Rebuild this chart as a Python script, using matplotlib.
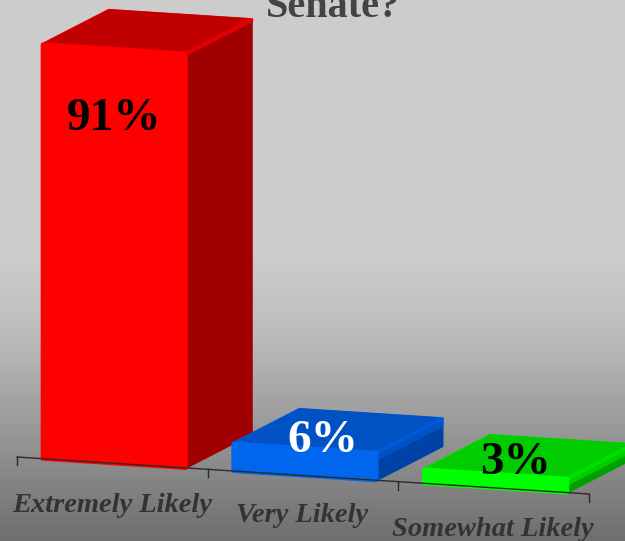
import numpy as np
import matplotlib
matplotlib.use('Agg')
import matplotlib.pyplot as plt
from matplotlib.patches import Polygon
from matplotlib.transforms import Affine2D

categories = ['Extremely Likely', 'Very Likely', 'Somewhat Likely']
values = [91, 6, 3]
labels = ['91%', '6%', '3%']
label_colors = ['black', 'white', 'black']

front_colors = ['#ff0000', '#0066ee', '#00ff00']
top_colors = ['#c00000', '#0052c4', '#00cc00']
edge_colors = ['#e40000', '#005ad8', '#00e000']
side_colors = ['#a00000', '#0042a6', '#00a000']
side_rim = [2, 7, 6]          # px, lighter strip on top of the side face

W, H = 625, 541
left, base_y = 17, 457        # where the axis starts, px
cat_w, cat_drop = 190.67, 12.33
val_h = 4.55
bar_start, bar_w = 0.135, 0.75
depth_x, depth_y = 66, -34    # px, oblique depth of the bars

# category/value space -> picture px
proj = Affine2D.from_values(cat_w, cat_drop, 0, -val_h, left, base_y)

fig = plt.figure(figsize=(W / 100, H / 100), dpi=100)
ax = fig.add_axes([0, 0, 1, 1])

# background
grad = np.interp(np.arange(H), [0, 260, 330, 400, 541], [0.80, 0.795, 0.74, 0.64, 0.43])
ax.imshow(grad[:, None], cmap='gray', vmin=0, vmax=1, aspect='auto', extent=(0, W, H, 0), zorder=0)
ax.set_xlim(0, W)
ax.set_ylim(H, 0)
ax.axis('off')


def pts(i, val):
    # front corners of bar i at height val, in px
    x0 = i + bar_start
    return proj.transform([[x0, val], [x0 + bar_w, val]])


def poly(p, color, z, lw=1.5):
    ax.add_patch(Polygon(p, closed=True, facecolor=color, edgecolor=color, lw=lw, joinstyle='round', zorder=z))


d = np.array([depth_x, depth_y])
for i, v in enumerate(values):
    z = 2 + i
    bl, br = pts(i, 0)
    tl, tr = pts(i, v)
    rim = np.array([0, side_rim[i]])
    poly([br, br + d, tr + d, tr], side_colors[i], z)
    poly([tr, tr + d, tr + d + rim, tr + rim], top_colors[i], z)
    poly([tl, tr, tr + d, tl + d], edge_colors[i], z, lw=2.5)
    # darker inner part of the top, the rim stays lighter
    u = tr - tl
    poly([tl + 0.01 * u + 0.1 * d, tl + 0.95 * u + 0.1 * d, tl + 0.95 * u + d, tl + 0.01 * u + d], top_colors[i], z, lw=2)
    poly([bl, br, tr, tl], front_colors[i], z, lw=3)

# axis line and ticks
ax_x = np.arange(len(categories) + 1)
ax_pts = proj.transform(np.column_stack([ax_x, np.zeros(len(ax_x))]))
ax.plot(ax_pts[:, 0], ax_pts[:, 1], color='#2a2a2a', lw=1, zorder=6)
for p in ax_pts:
    ax.plot([p[0], p[0]], [p[1], p[1] + 8], color='#2a2a2a', lw=1, zorder=6)

# text
font = 'Liberation Serif'
cat_pos = [(112, 505), (302, 515), (493, 529)]
for c, (x, y) in zip(categories, cat_pos):
    ax.text(x, y, c, family=font, style='italic', weight='bold', fontsize=20.5, color='#333333',
            ha='center', va='center', zorder=7)
val_pos = [(114, 119), (323, 441), (516, 463)]
for s, col, (x, y) in zip(labels, label_colors, val_pos):
    ax.text(x, y, s, family=font, weight='bold', fontsize=34, color=col, ha='center', va='center', zorder=7)
ax.text(333, 17, 'Senate?', family=font, weight='bold', fontsize=29, color='#444444', ha='center', va='baseline', zorder=1)

fig.savefig('out.png', dpi=100)
